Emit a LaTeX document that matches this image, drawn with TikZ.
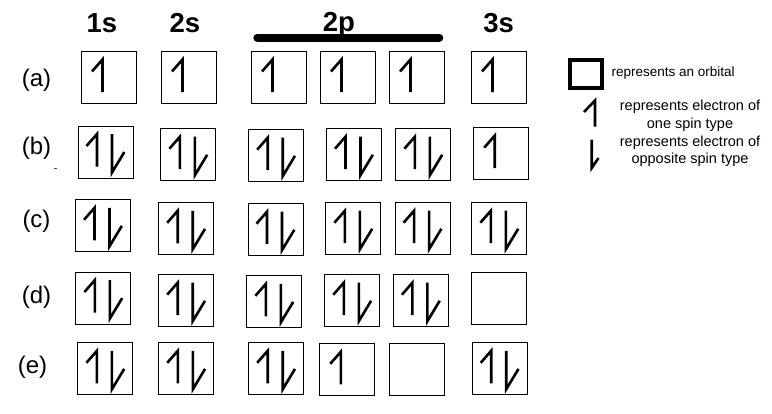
\documentclass[tikz,border=0pt]{standalone}
\usepackage{fontspec}
\setmainfont{Liberation Sans}
\usepackage{tikz}

\begin{document}
\begin{tikzpicture}[
x=1pt, y=-1pt,
% Style for the orbital boxes
orbital box/.style={
draw=black,
line width=1pt,
minimum width=55pt,
minimum height=52pt,
inner sep=0pt
},
% Style for the half arrows (electrons)
spin line/.style={
line width=2.6pt
},
% Style for the labels
shell label/.style={
font=\fontsize{27.5}{30}\selectfont\bfseries,
inner sep=0pt,
anchor=base
},
row label/.style={
font=\fontsize{24}{28}\selectfont,
inner sep=0pt
},
key text/.style={
font=\fontsize{14.5}{17.8}\selectfont,
inner sep=0pt
},
% Electrons drawn from the top middle of a box
up spin/.pic={\draw[spin line] (-10.5,20.5) -- (0,8.5) -- (0,41);},
down spin/.pic={\draw[spin line] (0,8.5) -- (0,47) -- (12.3,26.6);},
single spin/.pic={\pic at (-6.5,0) {up spin};},
paired spin/.pic={\pic at (-8.5,0) {up spin}; \pic at (6.5,0) {down spin};}
]

\useasboundingbox (0,0) rectangle (772,413);

% Headings
\node[shell label] (s1) at (102,32.3) {1s};
\node[shell label] (s2) at (185,32.3) {2s};
\node[shell label] (p2) at (339,31) {2p};
\node[shell label] (s3) at (498.7,32.3) {3s};
\draw[line width=8pt, line cap=round] (257.3,37.5) -- (439.3,37.5);

% Row labels
\node[row label] (la) at (36.5,80) {(a)};
\node[row label] (lb) at (36.5,148) {(b)};
\node[row label] (lc) at (36.5,221) {(c)};
\node[row label] (ld) at (36.5,297) {(d)};
\node[row label] (le) at (32.5,367) {(e)};
\draw[line width=0.8pt, black!70] (53.5,168.5) -- (56.5,168.5);

% Place the orbital boxes, row by row
\foreach \x/\y [count=\i] in {109/77.5, 189/77.5, 279/77.5, 348/77.5, 417/77.5, 499/77.5} {
\node[orbital box] (a\i) at (\x,\y) {};
}
\foreach \x/\y [count=\i] in {105.5/152, 188.4/154.7, 276.2/155.7, 354/154.7, 423.4/154.7, 501.2/153.7} {
\node[orbital box] (b\i) at (\x,\y) {};
}
\foreach \x/\y [count=\i] in {103/225.8, 186.2/228.8, 275.5/229.7, 353.4/228.7, 422.6/228.7, 499.4/228.7} {
\node[orbital box] (c\i) at (\x,\y) {};
}
\foreach \x/\y [count=\i] in {103.4/298, 186.2/300.7, 274.4/301.8, 352.3/300.7, 420.9/300.7, 499.4/298.7} {
\node[orbital box] (d\i) at (\x,\y) {};
}
\foreach \x/\y [count=\i] in {105.4/368.8, 186.3/368.8, 276.2/368.8, 347.3/369.8, 417.3/369.8, 499.7/368.8} {
\node[orbital box] (e\i) at (\x,\y) {};
}

% Fill in the electrons
\foreach \n in {a1,a2,a3,a4,a5,a6,b6,e4} {
\pic at (\n.north) {single spin};
}
\foreach \n in {b1,b2,b3,b4,b5,c1,c2,c3,c4,c5,c6,d1,d2,d3,d4,d5,e1,e2,e3,e6} {
\pic at (\n.north) {paired spin};
}

% Key
\node[draw=black, line width=3.5pt, minimum width=32pt, minimum height=28pt, inner sep=0pt] (key box) at (585.8,73.8) {};
\node[key text, anchor=west, font=\fontsize{13.5}{16}\selectfont] (key orbital) at (611.5,73.5) {represents an orbital};
\draw[spin line] (584,112) -- (595,100.5) -- (595,126.5);
\node[key text, align=center] (key up) at (690,115.6) {represents electron of\\one spin type};
\draw[spin line] (591.7,139.5) -- (591.7,168) -- (598.5,158);
\node[key text, align=center] (key down) at (690,151.2) {represents electron of\\opposite spin type};

\end{tikzpicture}
\end{document}
